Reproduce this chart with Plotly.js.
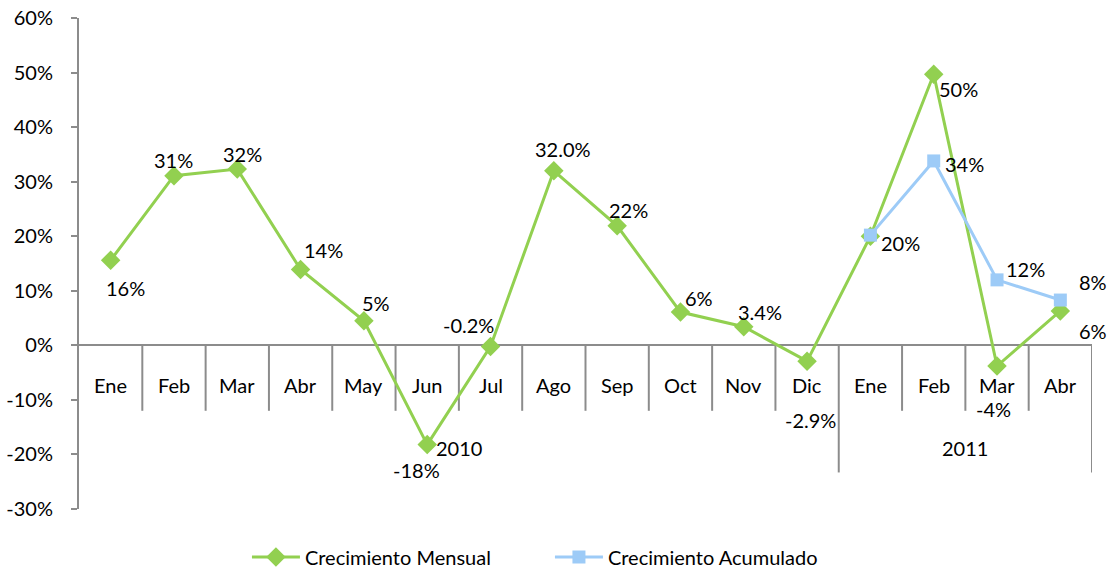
<!DOCTYPE html>
<html>
<head>
<meta charset="utf-8">
<script src="https://cdn.plot.ly/plotly-3.0.1.min.js"></script>
<style>html,body{margin:0;padding:0;background:#fff;}#chart{width:1111px;height:569px;}</style>
</head>
<body>
<div id="chart"></div>
<script>
// ---- data ----
const months = ["Ene","Feb","Mar","Abr","May","Jun","Jul","Ago","Sep","Oct","Nov","Dic","Ene","Feb","Mar","Abr"];
const years  = ["2010","2010","2010","2010","2010","2010","2010","2010","2010","2010","2010","2010","2011","2011","2011","2011"];
const mensual = [15.6, 31.1, 32.3, 13.9, 4.5, -18.2, -0.2, 32.0, 21.9, 6.1, 3.4, -2.9, 20.0, 49.7, -3.8, 6.3];
const mensualText = ["16%","31%","32%","14%","5%","-18%","-0.2%","32.0%","22%","6%","3.4%","-2.9%","","50%","-4%","6%"];
const acumulado = [null,null,null,null,null,null,null,null,null,null,null,null, 20.2, 33.8, 12.0, 8.3];
const acumuladoText = ["","","","","","","","","","","","","20%","34%","12%","8%"];
const yTicks = [-30,-20,-10,0,10,20,30,40,50,60];

// ---- label offsets (style) ----
const mensualOff = [[15,-28],[0,16],[5,15],[23,20],[12,18],[-11,-25],[-22,21],[9,22],[11,16],[19,14],[16,15],[3,-59],[0,0],[25,-15],[-4,-43],[33,-20]];
const acumOff = {12:[30,-8],13:[31,-3],14:[28,11],15:[33,18]};

const keys = months.map((m,i)=>years[i]+" "+m);
const FONT = "Lato, 'Open Sans', sans-serif";
const FS = 20;
const GREEN = "#92D050", BLUE = "#9DCBF7", AX = "#8C8C8C";

const traces = [
  {x: keys, y: mensual, type:"scatter", mode:"lines+markers", name:"Crecimiento Mensual",
   line:{color:GREEN, width:3}, marker:{symbol:"diamond", size:15, color:GREEN}},
  {x: keys, y: acumulado, type:"scatter", mode:"lines+markers", name:"Crecimiento Acumulado",
   line:{color:BLUE, width:3}, marker:{symbol:"square", size:13, color:BLUE}, connectgaps:false}
];

const ann = [];
mensual.forEach((v,i)=>{
  if (mensualText[i]) ann.push({x:keys[i], y:v, xref:"x", yref:"y", text:mensualText[i], showarrow:false,
    xshift:mensualOff[i][0], yshift:mensualOff[i][1], font:{family:FONT,size:FS,color:"#000"}});
});
acumulado.forEach((v,i)=>{
  if (v!==null && acumuladoText[i]) ann.push({x:keys[i], y:v, xref:"x", yref:"y", text:acumuladoText[i], showarrow:false,
    xshift:acumOff[i][0], yshift:acumOff[i][1], font:{family:FONT,size:FS,color:"#000"}});
});
// category labels
keys.forEach((k,i)=>{
  ann.push({x:k, y:0, xref:"x", yref:"y", text:months[i], showarrow:false, yshift:-40,
    font:{family:FONT,size:FS,color:"#000"}});
});
// year group labels
const groups = [...new Set(years)];
groups.forEach(g=>{
  const idx = years.map((y,i)=>y===g?i:-1).filter(i=>i>=0);
  const mid = (idx[0]+idx[idx.length-1])/2;
  ann.push({x:mid, y:0, xref:"x", yref:"y", text:g, showarrow:false, yshift:-103,
    font:{family:FONT,size:FS,color:"#000"}});
});

// separators
const shapes = [];
for (let i=1;i<=keys.length;i++){
  const groupEnd = (i===keys.length) || years[i]!==years[i-1];
  shapes.push({type:"line", xref:"x", yref:"y", x0:i-0.5, x1:i-0.5, y0:0, y1: groupEnd ? -23.3 : -12,
    line:{color:AX, width:2}, layer:"below"});
}

const layout = {
  width:1111, height:569,
  margin:{l:79, r:19, t:18, b:60},
  paper_bgcolor:"#fff", plot_bgcolor:"#fff",
  font:{family:FONT, size:FS, color:"#000"},
  showlegend:true,
  legend:{orientation:"h", x:0.495, xanchor:"center", xref:"container", y:0.021, yanchor:"middle", yref:"container",
    font:{family:FONT,size:FS,color:"#000"}, itemwidth:48, entrywidth:240, tracegroupgap:0},
  xaxis:{type:"category", categoryorder:"array", categoryarray:keys, range:[-0.5, keys.length-0.5],
    showticklabels:false, showgrid:false, zeroline:false, showline:false, ticks:""},
  yaxis:{range:[-30,60], tickvals:yTicks, ticktext:yTicks.map(v=>v+"%"), showgrid:false,
    zeroline:true, zerolinecolor:AX, zerolinewidth:2, showline:true, linecolor:AX, linewidth:2,
    ticks:"outside", ticklen:6, tickcolor:AX, tickwidth:2, ticklabelstandoff:14,
    tickfont:{family:FONT,size:FS,color:"#000"}},
  annotations: ann,
  shapes: shapes
};
Plotly.newPlot("chart", traces, layout, {displayModeBar:false, staticPlot:true});
</script>
</body>
</html>
